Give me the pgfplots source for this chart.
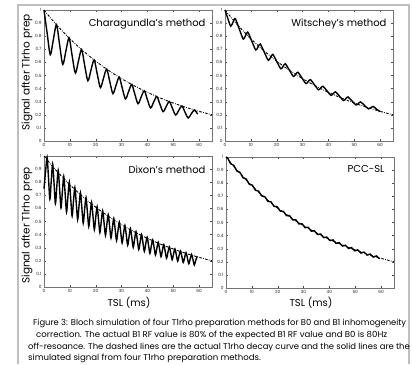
\documentclass[border=0pt]{standalone}
\usepackage{fontspec}
\setmainfont{Poppins}
\usepackage{pgfplots}
\usepackage{pgfplotstable}
\pgfplotsset{compat=1.18}

\pgfplotstableread{
t s
0 1.000
2.5 0.940
5 0.8836
7.5 0.8306
10 0.7807
12.5 0.7339
15 0.6899
17.5 0.6484
20 0.6095
22.5 0.5730
25 0.5386
27.5 0.5063
30 0.4759
32.5 0.4473
35 0.4205
37.5 0.3953
40 0.3716
42.5 0.3492
45 0.3283
47.5 0.3086
50 0.2901
52.5 0.2727
55 0.2563
57.5 0.2409
60 0.2265
62.5 0.2129
65 0.2001
}\dashtab

\pgfplotstableread{
t s
0 1.000
1.21 0.8248
2.43 0.6593
3.64 0.7768
4.85 0.8869
6.06 0.7316
7.28 0.5847
8.49 0.6890
9.70 0.7866
10.91 0.6489
12.13 0.5186
13.34 0.6111
14.55 0.6977
15.76 0.5755
16.98 0.4599
18.19 0.5420
19.40 0.6188
20.61 0.5104
21.83 0.4079
23.04 0.4807
24.25 0.5488
25.46 0.4527
26.68 0.3618
27.89 0.4264
29.10 0.4868
30.31 0.4015
31.53 0.3209
32.74 0.3782
33.95 0.4317
35.16 0.3562
36.38 0.2846
37.59 0.3354
38.80 0.3829
40.01 0.3159
41.23 0.2524
42.44 0.2974
43.65 0.3396
44.86 0.2802
46.08 0.2239
47.29 0.2638
48.50 0.3012
49.71 0.2485
50.93 0.1986
52.14 0.2340
53.35 0.2671
54.56 0.2203
55.78 0.1761
56.99 0.2075
58.20 0.2369
59.41 0.2050
}\charatab

\pgfplotstableread{
t s
0 1.000
1.1 0.935
2.2 0.877
3.075 0.905
3.95 0.934
5.5 0.856
7.05 0.778
7.925 0.804
8.8 0.831
10.35 0.763
11.9 0.695
12.775 0.7175
13.65 0.740
15.2 0.678
16.75 0.616
17.625 0.6385
18.5 0.661
20.05 0.606
21.6 0.551
22.475 0.570
23.35 0.589
24.9 0.541
26.45 0.493
27.325 0.509
28.2 0.525
29.75 0.4815
31.3 0.438
32.175 0.453
33.05 0.468
34.6 0.4295
36.15 0.391
37.025 0.4045
37.9 0.418
39.45 0.383
41.0 0.348
41.875 0.3615
42.75 0.375
44.3 0.342
45.85 0.309
46.725 0.3225
47.6 0.336
49.15 0.3055
50.7 0.275
51.575 0.2865
52.45 0.298
54.0 0.2715
55.55 0.245
56.425 0.2545
57.3 0.264
58.85 0.240
60 0.224
}\witstab

\pgfplotstableread{
t s
0 0.750
0.6 0.880
1.2 0.9901
1.738 0.8334
2.275 0.6711
2.813 0.8114
3.35 0.9388
3.888 0.7901
4.425 0.6363
4.963 0.7694
5.5 0.8902
6.038 0.7492
6.575 0.6034
7.113 0.7296
7.65 0.8441
8.188 0.7104
8.725 0.5721
9.263 0.6917
9.8 0.8003
10.338 0.6736
10.875 0.5424
11.413 0.6559
11.95 0.7588
12.488 0.6387
13.025 0.5143
13.563 0.6219
14.1 0.7195
14.638 0.6056
15.175 0.4877
15.713 0.5897
16.25 0.6822
16.788 0.5742
17.325 0.4624
17.863 0.5591
18.4 0.6469
18.938 0.5444
19.475 0.4384
20.013 0.5301
20.55 0.6133
21.088 0.5162
21.625 0.4157
22.163 0.5027
22.7 0.5815
23.238 0.4895
23.775 0.3942
24.313 0.4766
24.85 0.5514
25.388 0.4641
25.925 0.3737
26.463 0.4520
27.0 0.5229
27.538 0.4400
28.075 0.3544
28.613 0.4286
29.15 0.4958
29.688 0.4173
30.225 0.3360
30.763 0.4064
31.3 0.4701
31.838 0.3957
32.375 0.3186
32.913 0.3853
33.45 0.4457
33.988 0.3751
34.525 0.3021
35.063 0.3653
35.6 0.4227
36.138 0.3557
36.675 0.2865
37.213 0.3463
37.75 0.4008
38.288 0.3373
38.825 0.2716
39.363 0.3284
39.9 0.3800
40.438 0.3198
40.975 0.2575
41.513 0.3114
42.05 0.3603
42.588 0.3032
43.125 0.2442
43.663 0.2953
44.2 0.3416
44.738 0.2875
45.275 0.2315
45.813 0.2800
46.35 0.3239
46.888 0.2726
47.425 0.2195
47.963 0.2654
48.5 0.3071
49.038 0.2585
49.575 0.2082
50.113 0.2517
50.65 0.2912
51.188 0.2451
51.725 0.1974
52.263 0.2386
52.8 0.2761
53.338 0.2324
53.875 0.1872
54.413 0.2263
54.95 0.2618
55.488 0.2204
56.025 0.1774
56.563 0.2145
57.1 0.2483
57.638 0.2090
58.175 0.1683
58.713 0.2035
59.25 0.2354
}\dixtab

\pgfplotstableread{
t s
0 1.0000
0.6 0.9933
1.2 0.9707
1.8 0.9484
2.4 0.9423
3.0 0.9364
3.6 0.9148
4.2 0.8933
4.8 0.8880
5.4 0.8829
6.0 0.8620
6.6 0.8413
7.2 0.8368
7.8 0.8324
8.4 0.8123
9.0 0.7923
9.6 0.7885
10.2 0.7849
10.8 0.7654
11.4 0.7462
12.0 0.7430
12.6 0.7400
13.2 0.7213
13.8 0.7026
14.4 0.7002
15.0 0.6978
15.6 0.6797
16.2 0.6617
16.8 0.6598
17.4 0.6581
18.0 0.6405
18.6 0.6231
19.2 0.6218
19.8 0.6206
20.4 0.6036
21.0 0.5867
21.6 0.5859
22.2 0.5853
22.8 0.5688
23.4 0.5524
24.0 0.5521
24.6 0.5520
25.2 0.5359
25.8 0.5200
26.4 0.5203
27.0 0.5206
27.6 0.5050
28.2 0.4896
28.8 0.4903
29.4 0.4910
30.0 0.4759
30.6 0.4609
31.2 0.4620
31.8 0.4632
32.4 0.4485
33.0 0.4338
33.6 0.4353
34.2 0.4369
34.8 0.4226
35.4 0.4084
36.0 0.4102
36.6 0.4122
37.2 0.3982
37.8 0.3843
38.4 0.3866
39.0 0.3889
39.6 0.3752
40.2 0.3617
40.8 0.3643
41.4 0.3669
42.0 0.3536
42.6 0.3404
43.2 0.3433
43.8 0.3462
44.4 0.3332
45.0 0.3203
45.6 0.3235
46.2 0.3267
46.8 0.3140
47.4 0.3014
48.0 0.3048
48.6 0.3083
49.2 0.2959
49.8 0.2835
50.4 0.2872
51.0 0.2910
51.6 0.2788
52.2 0.2667
52.8 0.2707
53.4 0.2747
54.0 0.2628
54.6 0.2509
55.2 0.2551
55.8 0.2593
56.4 0.2476
57.0 0.2360
57.6 0.2404
58.2 0.2449
58.8 0.2334
59.4 0.2219
}\pcctab

\pgfplotsset{
  panel/.style={
    scale only axis, width=168pt, height=131pt,
    anchor=south west,
    xmin=0, xmax=65, ymin=0, ymax=1,
    xtick={0,10,20,30,40,50,60},
    ytick={0,0.1,0.2,0.3,0.4,0.5,0.6,0.7,0.8,0.9,1},
    yticklabels={0,0.1,0.2,0.3,0.4,0.5,0.6,0.7,0.8,0.9,1},
    xticklabels={0,10,20,30,40,50,60},
    tick align=inside, major tick length=2pt,
    tick style={black!70, line width=0.3pt},
    axis line style={black!55, line width=0.5pt},
    tick label style={font=\fontsize{4.3}{5}\selectfont, text=black!85},
    xticklabel style={yshift=1pt},
    yticklabel style={xshift=1pt},
    /pgf/number format/assume math mode=true,
    clip=false,
  },
  solidc/.style={black, line width=1.4pt, smooth, no markers},
  dashc/.style={black, line width=0.9pt, no markers, smooth,
    dash pattern=on 2.6pt off 1.3pt on 0.7pt off 1.3pt},
}

\begin{document}
\begin{tikzpicture}
\path[use as bounding box] (0pt,0pt) rectangle (412pt,364pt);
% grey frame
\draw[black!25, line width=1.6pt] (18pt,0pt) -- (18pt,359pt) -- (409pt,359pt) -- (409pt,0pt);

% top left
\begin{axis}[panel, at={(44pt,223pt)}]
\addplot[dashc] table[x=t,y=s] {\dashtab};
\addplot[solidc] table[x=t,y=s] {\charatab};
\end{axis}
% top right
\begin{axis}[panel, at={(225pt,223pt)}]
\addplot[dashc] table[x=t,y=s] {\dashtab};
\addplot[solidc] table[x=t,y=s] {\witstab};
\end{axis}
% bottom left
\begin{axis}[panel, at={(44pt,77pt)}]
\addplot[dashc] table[x=t,y=s] {\dashtab};
\addplot[solidc] table[x=t,y=s] {\dixtab};
\end{axis}
% bottom right
\begin{axis}[panel, at={(226pt,76pt)}]
\addplot[dashc] table[x=t,y=s] {\dashtab};
\addplot[solidc] table[x=t,y=s] {\pcctab};
\end{axis}

% panel titles
\node[anchor=east, font=\fontsize{10}{12}\selectfont] at (209pt,340pt) {Charagundla's method};
\node[anchor=east, font=\fontsize{10}{12}\selectfont] at (390pt,340pt) {Witschey's method};
\node[anchor=east, font=\fontsize{10}{12}\selectfont] at (209pt,194pt) {Dixon's method};
\node[anchor=east, font=\fontsize{10}{12}\selectfont] at (388pt,195pt) {PCC-SL};

% axis labels
\node[rotate=90, font=\fontsize{10.5}{12}\selectfont] at (27pt,291.5pt) {Signal after T1rho prep};
\node[rotate=90, font=\fontsize{10.5}{12}\selectfont] at (27pt,138.5pt) {Signal after T1rho prep};
\node[font=\fontsize{10}{12}\selectfont] at (129pt,61pt) {TSL (ms)};
\node[font=\fontsize{10}{12}\selectfont] at (311pt,61pt) {TSL (ms)};

% caption
\begin{scope}[every node/.style={anchor=base west, inner sep=0pt, font=\fontsize{8.4}{10}\selectfont}]
\node at (33pt,38.2pt) {Figure 3: Bloch simulation of four T1rho preparation methods for B0 and B1 inhomogeneity};
\node[xscale=1.02] at (36pt,26.5pt) {correction. The actual B1 RF value is 80\% of the expected B1 RF value and B0 is 80Hz};
\node[xscale=1.005] at (28pt,14.8pt) {off-resoance. The dashed lines are the actual T1rho decay curve and the solid lines are the};
\node[xscale=1.02] at (28pt,3.2pt) {simulated signal from four T1rho preparation methods.};
\end{scope}
\end{tikzpicture}
\end{document}
